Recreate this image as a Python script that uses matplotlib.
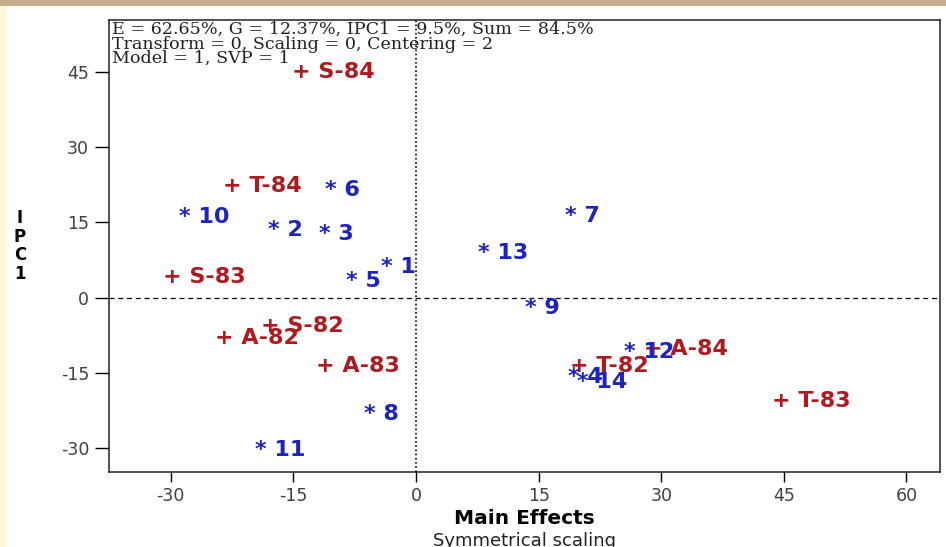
import matplotlib.pyplot as plt
from matplotlib.patches import Rectangle

plt.rcParams['axes.unicode_minus'] = False

# environments (red "+") - label centre positions
env_names = ["S-84", "T-84", "S-83", "S-82", "A-82", "A-83", "T-82", "A-84", "T-83"]
env_x = [-10.1, -18.8, -25.9, -13.9, -19.5, -7.1, 23.6, 33.0, 48.4]
env_y = [44.9, 22.2, 4.1, -5.6, -8.0, -13.6, -13.6, -10.2, -20.6]

# genotypes (blue "*")
gen_names = ["1", "2", "3", "4", "5", "6", "7", "8", "9", "10", "11", "12", "13", "14"]
gen_x = [-2.1, -16.0, -9.8, 20.7, -6.4, -9.0, 20.3, -4.2, 15.5, -25.9, -16.6, 28.5, 10.7, 22.8]
gen_y = [6.1, 13.5, 12.7, -15.7, 3.3, 21.4, 16.3, -23.2, -2.1, 16.1, -30.3, -10.8, 8.9, -16.7]

xticks = [-30, -15, 0, 15, 30, 45, 60]
yticks = [-30, -15, 0, 15, 30, 45]

info = "E = 62.65%, G = 12.37%, IPC1 = 9.5%, Sum = 84.5%\nTransform = 0, Scaling = 0, Centering = 2\nModel = 1, SVP = 1"

red = "#b01a1e"
blue = "#1d22c2"

fig = plt.figure(figsize=(9.46, 5.47), dpi=100, facecolor="#fdf7df")
# slide background bits
fig.patches.append(Rectangle((7 / 946, 0), 1, 541 / 547, transform=fig.transFigure,
                             facecolor="white", edgecolor="none", zorder=-10))
fig.patches.append(Rectangle((0, 541 / 547), 1, 6 / 547, transform=fig.transFigure,
                             facecolor="#c8ae8e", edgecolor="none", zorder=-10))

ax = fig.add_axes([109 / 946, 75 / 547, 831 / 946, 452 / 547])
ax.set_facecolor("white")
ax.set_xlim(-37.56, 64.1)
ax.set_ylim(-34.7, 55.3)

ax.axhline(0, color="black", lw=0.9, ls=(0, (4, 3)))
ax.axvline(0, color="black", lw=1.2, ls=(0, (1, 1.5)))

for n, x, y in zip(env_names, env_x, env_y):
    ax.text(x, y, "+ " + n, color=red, fontsize=16, fontweight="bold",
            ha="center", va="center")
for n, x, y in zip(gen_names, gen_x, gen_y):
    ax.text(x, y, "* " + n, color=blue, fontsize=16, fontweight="bold",
            ha="center", va="center")

ax.text(0.004, 0.998, info, transform=ax.transAxes, ha="left", va="top",
        fontsize=12.6, family="DejaVu Serif", color="#222222", linespacing=0.82)

ax.set_xticks(xticks)
ax.set_yticks(yticks)
ax.tick_params(axis="x", length=7, width=1, pad=3.5, labelsize=12.5, labelcolor="#404040")
ax.tick_params(axis="y", length=10, width=1, pad=4.3, labelsize=12.5, labelcolor="#404040")
for s in ax.spines.values():
    s.set_linewidth(1.1)
    s.set_color("#222222")

fig.text(524 / 946, 1 - 519 / 547, "Main Effects", ha="center", va="center",
         fontsize=14.5, fontweight="bold")
fig.text(524 / 946, 1 - 541 / 547, "Symmetrical scaling", ha="center", va="center",
         fontsize=13, color="#222222")
fig.text(20 / 946, 1 - 246 / 547, "I\nP\nC\n1", ha="center", va="center",
         fontsize=12, fontweight="bold", linespacing=1.05)

fig.savefig("out.png", dpi=100, facecolor=fig.get_facecolor())
